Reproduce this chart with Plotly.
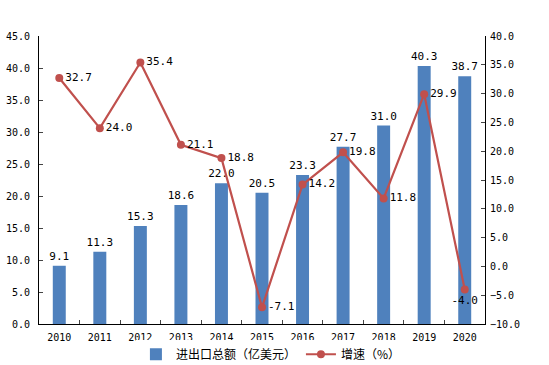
import plotly.graph_objects as go

years = ["2010", "2011", "2012", "2013", "2014", "2015", "2016", "2017", "2018", "2019", "2020"]
total = [9.1, 11.3, 15.3, 18.6, 22.0, 20.5, 23.3, 27.7, 31.0, 40.3, 38.7]
growth = [32.7, 24.0, 35.4, 21.1, 18.8, -7.1, 14.2, 19.8, 11.8, 29.9, -4.0]
growth_pos = ["middle right"] * 10 + ["bottom center"]

NUMFONT = "DejaVu Sans Mono"
CJK = "Noto Sans CJK SC"
BLUE = "#4F81BD"
RED = "#C0504D"

fig = go.Figure()
fig.add_trace(go.Bar(
    x=years, y=total, name="进出口总额（亿美元）",
    marker=dict(color=BLUE, line=dict(width=0)),
    text=[f"{v:.1f}" for v in total], textposition="outside",
    textfont=dict(family=NUMFONT, size=11, color="black"),
    constraintext="none",
    cliponaxis=False,
))
fig.add_trace(go.Scatter(
    x=years, y=growth, name="增速（%）", yaxis="y2",
    mode="lines+markers+text",
    line=dict(color=RED, width=2.2),
    marker=dict(color=RED, size=8),
    text=[f"{v:.1f}" for v in growth], textposition=growth_pos,
    textfont=dict(family=NUMFONT, size=11, color="black"),
    cliponaxis=False,
))

fig.update_layout(
    width=549, height=365,
    margin=dict(l=39, r=64, t=36, b=41, autoexpand=False),
    plot_bgcolor="white", paper_bgcolor="white",
    font=dict(family=NUMFONT, size=10, color="black"),
    bargap=0.68,
    showlegend=True,
    legend=dict(orientation="h", x=0.52, xanchor="center", y=-0.105, yanchor="middle",
                font=dict(family=CJK, size=12), tracegroupgap=0, itemwidth=30),
    xaxis=dict(type="category", range=[-0.5, len(years) - 0.5], autorange=False,
               showline=True, linecolor="black", linewidth=1,
               ticks="inside", ticklen=4, tickson="boundaries", showgrid=False,
               ticklabelstandoff=4,
               automargin=False, tickfont=dict(size=10)),
    yaxis=dict(range=[0, 45], dtick=5, tickformat=".1f", showline=True,
               linecolor="black", linewidth=1, ticks="inside", ticklen=4,
               ticklabelstandoff=6,
               showgrid=False, zeroline=False, automargin=False, tickfont=dict(size=10)),
    yaxis2=dict(range=[-10, 40], dtick=5, tickformat=".1f", overlaying="y",
                side="right", showline=True, linecolor="black", linewidth=1,
                ticks="inside", ticklen=4, showgrid=False, zeroline=False,
                ticklabelstandoff=2,
                automargin=False, tickfont=dict(size=10)),
)

fig.write_html(
    "out.html",
    config={"displayModeBar": False},
    post_script="document.body.style.margin='0';document.body.style.padding='0';",
)
